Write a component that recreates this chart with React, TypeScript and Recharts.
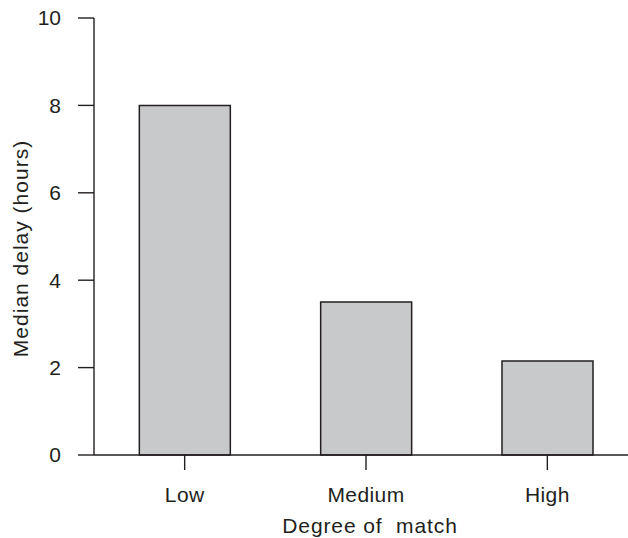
import React from "react";
import { BarChart, Bar, XAxis, YAxis, Label } from "recharts";

const categories = ["Low", "Medium", "High"];
const medianDelay = [8, 3.5, 2.15];
const yTicks = [0, 2, 4, 6, 8, 10];

const chartData = categories.map((c, i) => ({ name: c, delay: medianDelay[i] }));

const ink = "#231f20";
const font = "'Liberation Sans', Arial, Helvetica, sans-serif";

export default function App() {
  return (
    <div
      style={{
        position: "absolute",
        left: 0,
        top: 0,
        width: 628,
        height: 538,
        overflow: "hidden",
        background: "#fff",
        fontFamily: font,
      }}
    >
      <BarChart
        width={640}
        height={538}
        data={chartData}
        margin={{ top: 18, right: 2, left: 0, bottom: 0 }}
        barCategoryGap="25%"
      >
        <XAxis
          dataKey="name"
          height={83}
          tickSize={15}
          tickMargin={17}
          stroke={ink}
          strokeWidth={1.4}
          tick={{ fill: ink, fontSize: 21, fontFamily: font, letterSpacing: 0.4 }}
        >
          <Label
            content={({ viewBox }: any) => (
              <text
                x={viewBox.x + viewBox.width / 2 + 4}
                y={533}
                textAnchor="middle"
                fill={ink}
                fontSize={21}
                fontFamily={font}
                letterSpacing={0.9}
                style={{ whiteSpace: "pre" }}
              >
                {"Degree of  match"}
              </text>
            )}
          />
        </XAxis>
        <YAxis
          width={94}
          domain={[0, 10]}
          ticks={yTicks}
          tickSize={16}
          tickMargin={17}
          stroke={ink}
          strokeWidth={1.4}
          tick={{ fill: ink, fontSize: 21, fontFamily: font }}
        >
          <Label
            content={({ viewBox }: any) => {
              const cx = 28;
              const cy = viewBox.y + viewBox.height / 2 + 12;
              return (
                <text
                  x={cx}
                  y={cy}
                  textAnchor="middle"
                  transform={`rotate(-90, ${cx}, ${cy})`}
                  fill={ink}
                  fontSize={21}
                  fontFamily={font}
                  letterSpacing={1}
                >
                  Median delay (hours)
                </text>
              );
            }}
          />
        </YAxis>
        <Bar
          dataKey="delay"
          fill="#c8c9cb"
          stroke={ink}
          strokeWidth={1.5}
          isAnimationActive={false}
        />
      </BarChart>
    </div>
  );
}
